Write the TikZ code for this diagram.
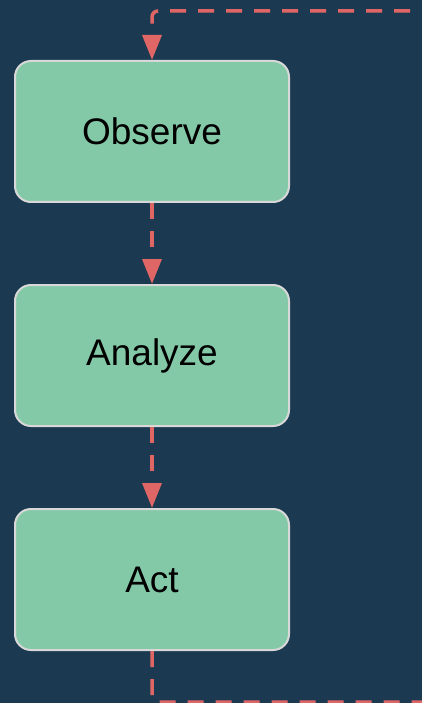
\documentclass[tikz,border=0pt]{standalone}
\usepackage{fontspec}
\setmainfont{Liberation Sans}
\usetikzlibrary{arrows.meta}
\definecolor{bg}{HTML}{1B3A52}
\definecolor{boxfill}{HTML}{83C9A8}
\definecolor{boxline}{HTML}{D8D8D8}
\definecolor{flowc}{HTML}{E06666}
\tikzset{
  stepbox/.style={draw=boxline, line width=2pt, fill=boxfill, rounded corners=16pt,
    minimum width=274pt, minimum height=141pt, inner sep=0pt,
    font=\fontsize{37}{44}\selectfont, text=black},
  flow/.style={draw=flowc, line width=3.5pt, dash pattern=on 16pt off 12pt,
    -{Triangle[width=19pt,length=25pt]}}
}
\begin{document}
\begin{tikzpicture}[x=1pt,y=-1pt]
\fill[bg] (0,0) rectangle (422,703);
\useasboundingbox (0,0) rectangle (422,703);
\clip (0,0) rectangle (422,703);
\node[stepbox] (obs) at (152,131.5) {Observe};
\node[stepbox] (ana) at (152,355.5) {Analyze};
\node[stepbox] (act) at (152,579.5) {Act};
\coordinate (b1) at (152,702);
\coordinate (b2) at (460,702);
\coordinate (t2) at (460,11);
\coordinate (t1) at (152,11);
\draw[flow] (obs.south) -- (ana.north);
\draw[flow] (ana.south) -- (act.north);
\draw[flow, rounded corners=6pt] (act.south) -- (b1) -- (b2) -- (t2) -- (t1) -- (obs.north);
\end{tikzpicture}
\end{document}
